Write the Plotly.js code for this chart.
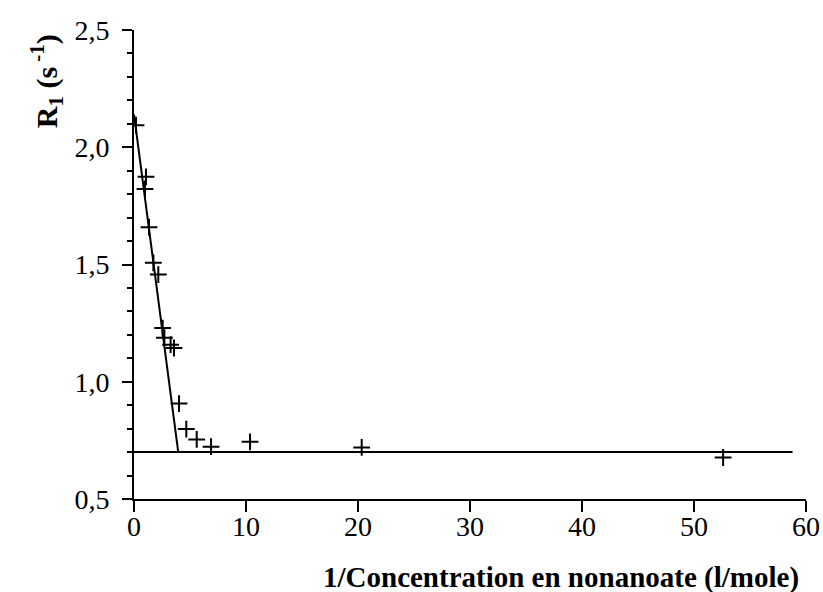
<!DOCTYPE html>
<html>
<head>
<meta charset="utf-8">
<script src="https://cdn.plot.ly/plotly-3.0.1.min.js"></script>
<style>html,body{margin:0;padding:0;background:#fff;}#chart{width:823px;height:592px;}</style>
</head>
<body>
<div id="chart"></div>
<script>
// Measured points: 1/concentration (l/mole) vs R1 (s^-1)
var invConc = [0.18, 1.07, 0.98, 1.34, 1.73, 2.17, 2.56, 2.71, 3.27, 3.57, 4.02, 4.67, 5.6, 6.88, 10.36, 20.33, 52.6];
var r1 = [2.094, 1.874, 1.822, 1.659, 1.507, 1.457, 1.229, 1.188, 1.158, 1.144, 0.907, 0.798, 0.754, 0.723, 0.744, 0.72, 0.677];
// Fitted lines
var steepX = [0, 3.95];
var steepY = [2.14, 0.70];
var plateauX = [0, 58.8];
var plateauY = [0.70, 0.70];
var xTicks = [0, 10, 20, 30, 40, 50, 60];
var yTicks = [0.5, 1.0, 1.5, 2.0, 2.5];

var serif = 'Liberation Serif';

var traces = [
  {x: steepX, y: steepY, mode: 'lines', line: {color: '#000', width: 2}, hoverinfo: 'skip'},
  {x: plateauX, y: plateauY, mode: 'lines', line: {color: '#000', width: 2}, hoverinfo: 'skip'},
  {x: invConc, y: r1, mode: 'markers',
   marker: {symbol: 'cross-thin', size: 12, color: '#000', line: {color: '#000', width: 2}}}
];

var layout = {
  width: 823, height: 592,
  margin: {l: 134, r: 17, t: 30, b: 93},
  paper_bgcolor: '#fff', plot_bgcolor: '#fff',
  showlegend: false,
  separators: ', ',
  font: {family: serif, color: '#000', size: 28},
  xaxis: {
    range: [0, 60], tickvals: xTicks, ticktext: xTicks.map(String),
    showgrid: false, zeroline: false, showline: true, linecolor: '#000', linewidth: 2,
    ticks: 'outside', ticklen: 11, tickwidth: 2, tickcolor: '#000', ticklabelstandoff: -10,
    tickfont: {family: serif, size: 28, color: '#000'}
  },
  yaxis: {
    range: [0.5, 2.5], tickvals: yTicks, ticktext: yTicks.map(function(v){return v.toFixed(1).replace('.', ',');}),
    showgrid: false, zeroline: false, showline: true, linecolor: '#000', linewidth: 2,
    ticks: 'outside', ticklen: 10, tickwidth: 2, tickcolor: '#000', ticklabelstandoff: 7,
    tickfont: {family: serif, size: 28, color: '#000'},
    minor: {dtick: 0.1, ticks: 'outside', ticklen: 5, tickwidth: 2, tickcolor: '#000', showgrid: false}
  },
  annotations: [
    {text: '<b>1/Concentration en nonanoate (l/mole)</b>', xref: 'paper', yref: 'paper',
     x: 0.992, y: -0.168, xanchor: 'right', yanchor: 'middle', showarrow: false,
     font: {family: serif, size: 29, color: '#000'}},
    {text: '<b>R<sub>1</sub> (s<sup> -1</sup>)</b>', xref: 'paper', yref: 'paper',
     x: -0.13, y: 0.89, xanchor: 'center', yanchor: 'middle', textangle: -90, showarrow: false,
     font: {family: serif, size: 30, color: '#000'}}
  ]
};

Plotly.newPlot('chart', traces, layout, {staticPlot: true, displayModeBar: false});
</script>
</body>
</html>
